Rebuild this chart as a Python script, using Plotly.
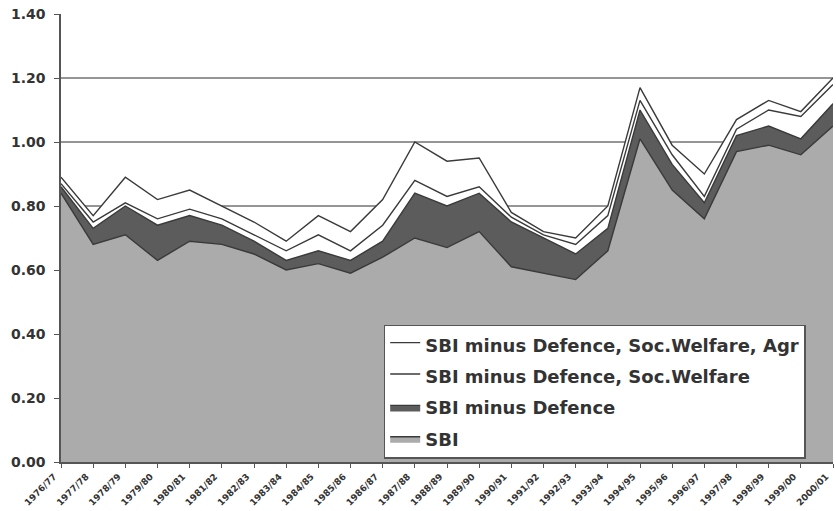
import plotly.graph_objects as go

years = ["1976/77", "1977/78", "1978/79", "1979/80", "1980/81", "1981/82", "1982/83",
         "1983/84", "1984/85", "1985/86", "1986/87", "1987/88", "1988/89", "1989/90",
         "1990/91", "1991/92", "1992/93", "1993/94", "1994/95", "1995/96", "1996/97",
         "1997/98", "1998/99", "1999/00", "2000/01"]

sbi = [0.84, 0.68, 0.71, 0.63, 0.69, 0.68, 0.65, 0.60, 0.62, 0.59, 0.64, 0.70, 0.67,
       0.72, 0.61, 0.59, 0.57, 0.66, 1.01, 0.85, 0.76, 0.97, 0.99, 0.96, 1.05]
sbi_def = [0.86, 0.73, 0.80, 0.74, 0.77, 0.74, 0.69, 0.63, 0.66, 0.63, 0.69, 0.84, 0.80,
           0.84, 0.75, 0.70, 0.65, 0.73, 1.10, 0.93, 0.81, 1.02, 1.05, 1.01, 1.12]
sbi_def_soc = [0.87, 0.75, 0.81, 0.76, 0.79, 0.76, 0.71, 0.66, 0.71, 0.66, 0.74, 0.88, 0.83,
               0.86, 0.765, 0.71, 0.68, 0.77, 1.13, 0.96, 0.83, 1.04, 1.10, 1.08, 1.18]
sbi_def_soc_agr = [0.89, 0.77, 0.89, 0.82, 0.85, 0.80, 0.75, 0.69, 0.77, 0.72, 0.82, 1.00, 0.94,
                   0.95, 0.78, 0.72, 0.70, 0.80, 1.17, 0.99, 0.90, 1.07, 1.13, 1.095, 1.20]

y_ticks = [0.0, 0.2, 0.4, 0.6, 0.8, 1.0, 1.2, 1.4]

series = [
    ("SBI minus Defence, Soc.Welfare, Agr", sbi_def_soc_agr, "#ffffff"),
    ("SBI minus Defence, Soc.Welfare", sbi_def_soc, "#ffffff"),
    ("SBI minus Defence", sbi_def, "#5c5c5c"),
    ("SBI", sbi, "#ababab"),
]

FONT = "DejaVu Sans, Liberation Sans, Arial, sans-serif"

fig = go.Figure()
for i, (name, vals, col) in enumerate(series):
    fig.add_trace(go.Scatter(
        x=years, y=vals, name=name, mode="lines", fill="tozeroy",
        fillcolor=col, line=dict(color="#3a3a3a", width=1.4),
        legendgroup=f"g{i}", hoverinfo="skip",
    ))

fig.update_layout(
    template="none",
    width=836, height=511,
    margin=dict(l=61, r=3, t=14, b=49),
    paper_bgcolor="white", plot_bgcolor="white",
    font=dict(family=FONT, color="#2a2a2a"),
    showlegend=True,
    legend=dict(
        x=0.418, y=0.306, xanchor="left", yanchor="top",
        bgcolor="white", bordercolor="#555555", borderwidth=1.5,
        font=dict(size=18, family=FONT, weight="bold", color="#333333"),
        tracegroupgap=5, itemwidth=30,
    ),
    xaxis=dict(
        type="category", range=[0, 24], showgrid=False,
        showline=True, linecolor="#555555", linewidth=1.5,
        ticks="outside", ticklen=4, tickcolor="#555555",
        tickangle=-45, tickfont=dict(size=9, family=FONT, weight="bold", color="#333333"),
        ticklabelshift=-7,
        automargin=False, zeroline=False,
    ),
    yaxis=dict(
        range=[0, 1.4], tickvals=y_ticks, tickformat=".2f",
        showgrid=True, gridcolor="#959595", gridwidth=1.5,
        showline=True, linecolor="#555555", linewidth=1.5,
        ticks="outside", ticklen=5, tickcolor="#555555",
        tickfont=dict(size=14, family=FONT, weight="bold", color="#333333"),
        ticklabelstandoff=6,
        automargin=False, zeroline=False,
    ),
)

fig.write_html(
    "out.html",
    config={"displayModeBar": False},
    post_script="document.body.style.margin='0px';document.body.style.overflow='hidden';",
)
